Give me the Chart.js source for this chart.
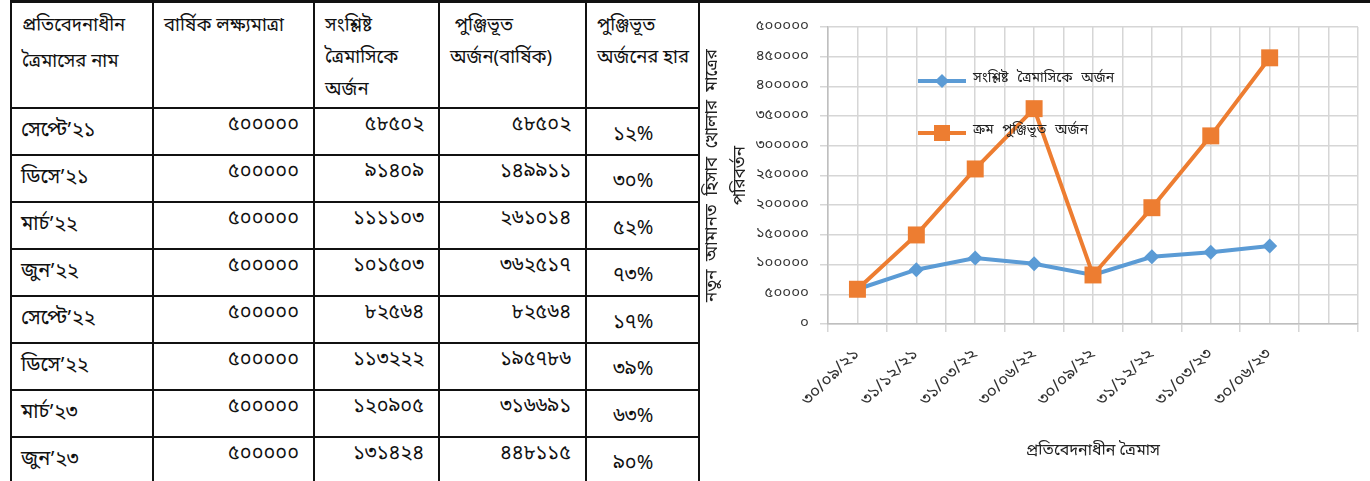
<!DOCTYPE html>
<html><head><meta charset="utf-8">
<script src="https://cdn.jsdelivr.net/npm/chart.js@4.4.0/dist/chart.umd.min.js"></script>
<style>
html,body{margin:0;padding:0;width:1370px;height:481px;overflow:hidden;background:#fff;}
body{font-family:'Noto Sans Bengali','Lohit Bengali','Noto Sans',sans-serif;color:#111;position:relative;}
#topline{position:absolute;left:10px;top:0;width:1360px;height:3px;background:#111;}
#tbl{position:absolute;left:10px;top:1px;border-collapse:collapse;table-layout:fixed;}
#tbl td{border:2px solid #111;padding:0;overflow:hidden;white-space:nowrap;}
#tbl tr.head td{height:96px;vertical-align:top;line-height:32px;padding-top:8px;padding-left:10px;font-size:18.5px;}
#tbl tr.head td.c1{line-height:36px;padding-top:6px;height:98px;}
#tbl tr.row td{height:45px;line-height:45px;font-size:20px;}
#tbl td .in{position:relative;}
#tbl td.name{text-align:left;padding-left:9px;}
#tbl td.num{text-align:right;padding-right:14px;}
#tbl td.num .in{top:-6px;}
#tbl td.pct{text-align:left;padding-left:26px;}
#tbl td.pct .in{top:4px;}
#chartWrap{position:absolute;left:700px;top:0;width:670px;height:481px;}
.leg{position:absolute;left:918px;height:20px;font-size:14px;word-spacing:5px;color:#222;}
.leg .ln{position:absolute;left:0;top:8px;width:48px;height:4px;}
.leg .mk{position:absolute;}
.leg .tx{position:absolute;left:55px;top:-2px;white-space:nowrap;}
</style></head>
<body>
<table id="tbl">
<colgroup><col style="width:142px"><col style="width:161px"><col style="width:125px"><col style="width:147px"><col style="width:113px"></colgroup>
<tbody id="tbody"></tbody>
</table>
<div id="topline"></div>
<div id="chartWrap"><canvas id="c" width="670" height="481"></canvas></div>
<div class="leg" style="top:71px;"><div class="ln" style="background:#5B9BD5"></div><div class="mk" style="left:19px;top:5px;width:10px;height:10px;background:#5B9BD5;transform:rotate(45deg)"></div><div class="tx">সংশ্লিষ্ট ত্রৈমাসিকে অর্জন</div></div>
<div class="leg" style="top:123px;"><div class="ln" style="background:#ED7D31"></div><div class="mk" style="left:16px;top:2px;width:16px;height:16px;background:#ED7D31"></div><div class="tx">ক্রম পুঞ্জিভূত অর্জন</div></div>
<script>
// ---- data ----
const quarterNames = ['সেপ্টে’২১','ডিসে’২১','মার্চ’২২','জুন’২২','সেপ্টে’২২','ডিসে’২২','মার্চ’২৩','জুন’২৩'];
const annualTarget = [500000,500000,500000,500000,500000,500000,500000,500000];
const quarterlyAchievement = [58502, 91409, 111103, 101503, 82564, 113222, 120905, 131424];
const cumulativeAchievement = [58502, 149911, 261014, 362517, 82564, 195786, 316691, 448115];
const cumulativeRate = [12, 30, 52, 73, 17, 39, 63, 90];
const xTickLabels = ['৩০/০৯/২১','৩১/১২/২১','৩১/০৩/২২','৩০/০৬/২২','৩০/০৯/২২','৩১/১২/২২','৩১/০৩/২৩','৩০/০৬/২৩',''];
const headerCells = [['প্রতিবেদনাধীন','ত্রৈমাসের নাম'],['বার্ষিক লক্ষ্যমাত্রা'],['সংশ্লিষ্ট','ত্রৈমাসিকে','অর্জন'],['&nbsp;পুঞ্জিভূত','অর্জন(বার্ষিক)'],['পুঞ্জিভূত','অর্জনের হার']];
const seriesNames = ['সংশ্লিষ্ট ত্রৈমাসিকে অর্জন','ক্রম পুঞ্জিভূত অর্জন'];
const yTitle = ['নতুন\u2002আমানত\u2002হিসাব\u2002খোলার\u2002মাত্রের','পরিবর্তন'];
const xTitle = 'প্রতিবেদনাধীন ত্রৈমাস';

const bnDigits = '০১২৩৪৫৬৭৮৯';
const toBn = v => String(v).replace(/\d/g, d => bnDigits[d]);

// ---- table ----
let html = '<tr class="head">' + headerCells.map((h, i) => '<td class="c' + (i + 1) + '">' + h.join('<br>') + '</td>').join('') + '</tr>';
quarterNames.forEach((q, i) => {
  html += '<tr class="row"><td class="name"><div class="in">' + q + '</div></td>' +
    '<td class="num"><div class="in">' + toBn(annualTarget[i]) + '</div></td>' +
    '<td class="num"><div class="in">' + toBn(quarterlyAchievement[i]) + '</div></td>' +
    '<td class="num"><div class="in">' + toBn(cumulativeAchievement[i]) + '</div></td>' +
    '<td class="pct"><div class="in">' + toBn(cumulativeRate[i]) + '%</div></td></tr>';
});
document.getElementById('tbody').innerHTML = html;

// ---- chart ----
const FONT = "'Noto Sans Bengali','Lohit Bengali','Noto Sans',sans-serif";
const gridColor = '#d6d6d6';
new Chart(document.getElementById('c'), {
  type: 'line',
  data: {
    labels: xTickLabels,
    datasets: [
      { label: seriesNames[0], data: quarterlyAchievement, borderColor: '#5B9BD5', backgroundColor: '#5B9BD5',
        borderWidth: 4, pointStyle: 'rectRot', pointRadius: 7.5, pointBorderWidth: 0, tension: 0, order: 1 },
      { label: seriesNames[1], data: cumulativeAchievement, borderColor: '#ED7D31', backgroundColor: '#ED7D31',
        borderWidth: 4, pointStyle: 'rect', pointRadius: 12, pointBorderWidth: 0, tension: 0, order: 0 }
    ]
  },
  options: {
    responsive: false, animation: false,
    layout: { padding: { left: 0, right: 9, top: 27, bottom: 15 } },
    plugins: { legend: { display: false }, tooltip: { enabled: false } },
    scales: {
      x: {
        offset: true,
        grid: { offset: true, color: gridColor, lineWidth: 1.5, tickLength: 8 },
        border: { color: '#bfbfbf', width: 1.5 },
        ticks: { minRotation: 45, maxRotation: 45, autoSkip: false, padding: 13, color: '#333', font: { family: FONT, size: 17 } },
        title: { display: true, text: xTitle, color: '#222', font: { family: FONT, size: 16 }, padding: { top: 4, bottom: 4 } },
        afterFit: s => { s.height = 142; }
      },
      xMid: {
        type: 'category', position: 'bottom', labels: xTickLabels, offset: true,
        grid: { offset: false, color: gridColor, lineWidth: 1.5, drawTicks: false },
        border: { display: false },
        ticks: { display: false },
        afterFit: s => { s.height = 0; }
      },
      y: {
        min: 0, max: 500000,
        grid: { color: gridColor, lineWidth: 1.5, tickLength: 8 },
        border: { color: '#bfbfbf', width: 1.5 },
        ticks: { stepSize: 50000, padding: 11, color: '#333', font: { family: FONT, size: 15 }, callback: v => toBn(v) },
        title: { display: true, text: yTitle, color: '#222', font: { family: FONT, size: 17, lineHeight: 1.65 }, padding: 0 },
        afterFit: s => { s.width = 128; }
      }
    }
  }
});
</script>
</body></html>
